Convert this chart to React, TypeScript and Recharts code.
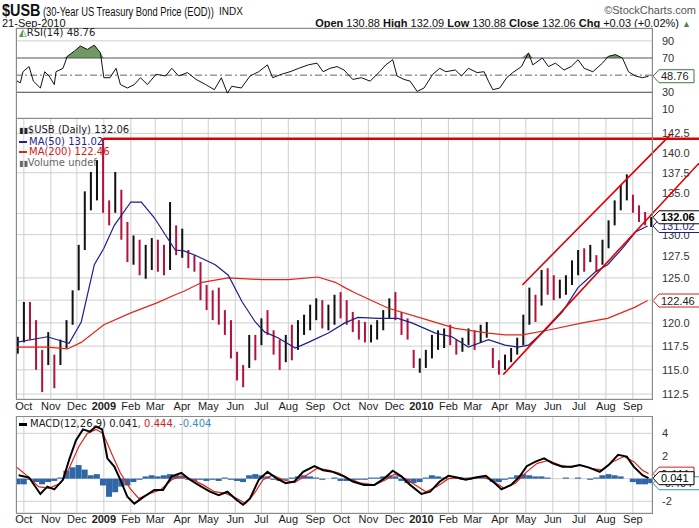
import React from "react";
import {
  ComposedChart,
  Line,
  Bar,
  Area,
  Cell,
  XAxis,
  YAxis,
  CartesianGrid,
  ReferenceLine,
} from "recharts";

// x axis: calendar days since 22-Sep-2008
const monthTicks = [9, 40, 70, 101, 132, 160, 191, 221, 252, 282, 313, 344, 374, 405, 435, 466, 497, 525, 556, 586, 617, 647, 678, 709];
const monthLabels = ["Oct", "Nov", "Dec", "2009", "Feb", "Mar", "Apr", "May", "Jun", "Jul", "Aug", "Sep", "Oct", "Nov", "Dec", "2010", "Feb", "Mar", "Apr", "May", "Jun", "Jul", "Aug", "Sep"];

// weekly price bars
const weekHigh = [
  118.5, 122.3, 122.3, 120.3, 117.1, 119.0, 116.6, 118.2, 120.3, 123.6,
  128.8, 135.2, 137.6, 139.1, 141.9, 134.1, 137.6, 135.4, 131.5, 129.9,
  129.4, 128.8, 129.6, 129.4, 128.8, 133.9, 131.1, 130.7, 128.2, 127.6,
  126.8, 124.2, 123.6, 123.9, 121.4, 120.3, 116.9, 115.5, 118.7, 118.7,
  120.5, 121.4, 119.2, 118.2, 118.7, 119.8, 120.3, 120.9, 122.0, 122.7,
  122.5, 122.0, 123.1, 123.4, 122.5, 121.2, 120.3, 120.1, 119.8, 120.3,
  121.4, 122.7, 123.4, 121.2, 120.5, 117.1, 116.2, 117.1, 118.7, 119.2,
  119.4, 119.8, 118.2, 118.4, 119.4, 119.2, 119.8, 120.1, 117.3, 116.0,
  116.6, 117.3, 118.4, 120.9, 123.9, 123.1, 125.9, 126.1, 125.3, 124.8,
  125.3, 127.0, 128.2, 128.4, 128.8, 127.6, 129.4, 131.7, 134.1, 136.0,
  137.3, 134.8, 133.5, 132.7, 132.1,
];
const weekLow = [
  116.7, 117.9, 118.2, 115.0, 112.7, 115.5, 113.1, 115.5, 117.3, 119.8,
  123.6, 128.2, 132.9, 134.1, 132.6, 131.1, 132.6, 129.4, 126.8, 126.5,
  125.3, 124.9, 125.9, 125.7, 125.3, 125.9, 127.6, 127.3, 126.1, 125.7,
  122.5, 121.4, 120.3, 119.8, 118.7, 116.2, 113.9, 113.2, 115.2, 116.0,
  117.6, 118.7, 116.6, 115.0, 115.8, 116.0, 117.1, 118.7, 119.2, 120.3,
  119.4, 119.2, 119.8, 120.5, 119.8, 119.0, 118.2, 117.9, 117.9, 118.2,
  119.2, 120.5, 120.3, 118.7, 118.2, 115.2, 114.7, 115.2, 116.2, 117.1,
  117.3, 117.6, 116.6, 116.9, 117.6, 117.1, 117.9, 118.4, 115.2, 114.5,
  115.0, 115.8, 116.6, 117.6, 119.8, 120.1, 121.9, 123.1, 122.5, 122.7,
  123.1, 124.2, 125.3, 125.7, 126.8, 125.7, 126.5, 128.4, 131.1, 132.9,
  134.1, 132.6, 131.5, 131.1, 130.9,
];
const weekClose = [
  117.5, 121.0, 119.5, 116.0, 114.0, 118.0, 113.8, 117.5, 119.8, 123.0,
  128.0, 134.0, 135.5, 139.0, 133.5, 132.0, 136.0, 130.0, 128.0, 129.0,
  126.0, 127.0, 128.5, 126.5, 125.8, 131.0, 128.5, 130.0, 127.0, 126.5,
  123.5, 122.3, 122.0, 120.5, 119.5, 117.0, 115.0, 114.2, 118.0, 117.0,
  120.0, 119.5, 117.5, 115.8, 118.0, 116.8, 119.8, 120.3, 121.5, 122.0,
  120.5, 121.5, 122.8, 121.5, 120.5, 119.5, 119.2, 118.5, 119.5, 119.8,
  121.0, 122.3, 120.8, 119.5, 119.0, 115.5, 115.8, 116.8, 118.3, 118.5,
  119.0, 118.0, 117.2, 117.8, 119.0, 117.6, 119.3, 119.8, 115.6, 115.0,
  116.0, 117.0, 118.0, 120.5, 122.0, 120.8, 125.0, 124.5, 123.5, 124.0,
  125.0, 126.5, 127.8, 126.5, 128.5, 126.2, 129.0, 131.5, 133.8, 134.5,
  135.5, 133.2, 131.8, 131.3, 132.06,
];

const ma50Days = [0, 36, 61, 75, 90, 101, 113, 132, 144, 159, 174, 183, 193, 206, 229, 244, 260, 275, 286, 301, 321, 336, 359, 378, 393, 416, 439, 455, 482, 501, 520, 543, 562, 577, 589, 608, 628, 646, 666, 680, 697, 712, 726];
const ma50Vals = [117.9, 118.5, 117.8, 120.1, 126.5, 128.4, 131.1, 133.9, 133.9, 132.0, 129.6, 128.2, 128.1, 127.6, 126.5, 125.3, 122.3, 120.1, 119.0, 118.4, 117.3, 117.9, 118.9, 120.0, 120.6, 120.5, 120.5, 120.0, 118.9, 118.5, 117.4, 118.2, 117.6, 117.4, 117.6, 119.2, 121.2, 123.9, 125.7, 126.5, 128.4, 130.3, 131.02];

const ma200Days = [0, 36, 59, 75, 101, 132, 162, 183, 193, 214, 244, 283, 313, 347, 367, 378, 390, 428, 467, 505, 543, 562, 582, 611, 651, 680, 711, 726];
const ma200Vals = [117.4, 117.4, 117.2, 117.9, 119.8, 121.1, 122.2, 123.1, 123.5, 124.5, 125.0, 124.8, 124.8, 125.1, 124.5, 123.9, 123.3, 121.6, 120.5, 119.4, 118.9, 118.7, 118.7, 119.2, 120.0, 120.5, 121.7, 122.46];

const rsiDays = [0, 5, 8, 15, 20, 28, 33, 38, 44, 46, 54, 59, 67, 74, 82, 90, 97, 101, 108, 115, 120, 128, 136, 143, 151, 161, 172, 179, 187, 197, 207, 218, 228, 236, 243, 248, 259, 269, 279, 289, 295, 305, 315, 325, 336, 346, 353, 361, 369, 377, 387, 397, 407, 418, 425, 433, 438, 446, 453, 461, 469, 479, 487, 494, 505, 512, 520, 530, 538, 543, 548, 556, 564, 571, 581, 589, 594, 605, 612, 620, 630, 638, 646, 653, 663, 674, 681, 689, 697, 704, 712, 720, 727];
const rsiVals = [44, 41, 54, 60, 43, 35, 54, 49, 39, 54, 58, 72, 78, 84, 80, 85, 76, 47, 47, 58, 39, 35, 39, 47, 39, 51, 49, 58, 49, 53, 45, 39, 33, 47, 29, 37, 35, 49, 54, 62, 47, 51, 54, 58, 62, 64, 54, 58, 60, 56, 45, 47, 43, 54, 62, 68, 49, 45, 43, 31, 35, 51, 58, 54, 56, 49, 58, 53, 54, 43, 33, 35, 47, 53, 60, 76, 62, 70, 60, 64, 56, 60, 68, 58, 54, 64, 72, 74, 70, 54, 49, 47, 48.76];

const macdDays = [3, 15, 28, 36, 44, 54, 61, 69, 77, 85, 92, 99, 105, 113, 120, 128, 136, 146, 159, 169, 179, 190, 200, 213, 223, 233, 243, 254, 261, 269, 279, 289, 300, 310, 320, 330, 343, 353, 364, 377, 387, 400, 412, 423, 433, 443, 453, 466, 476, 487, 497, 507, 517, 528, 540, 551, 558, 569, 579, 587, 597, 607, 617, 628, 638, 648, 658, 671, 681, 692, 702, 710, 720, 727];
const macdVals = [0.3, 0.1, -1.35, -0.7, -0.95, -0.1, 1.65, 3.4, 4.35, 4.15, 4.6, 4.35, 1.8, 1.06, -0.1, -1.6, -2.2, -1.65, -1.0, -1.0, 0.2, 0.5, -0.1, -0.7, -1.15, -1.45, -1.15, -1.9, -2.3, -1.75, -0.1, 0.6, 0, -0.4, -0.25, 0.6, 1.1, 0.75, 0.6, 0.2, -0.25, -0.55, -0.55, 0, 0.7, 0.2, -0.55, -1.35, -1.15, -0.25, 0.25, 0.1, -0.1, 0.1, 0.25, -0.45, -0.95, -0.55, 0.2, 1.1, 1.5, 1.8, 1.35, 1.06, 1.06, 1.2, 1.0, 0.6, 1.2, 2.1, 1.95, 1.06, 0.3, 0.041];

const signalDays = [0, 13, 26, 38, 51, 61, 72, 82, 92, 100, 110, 120, 131, 141, 154, 166, 179, 190, 202, 215, 228, 241, 254, 264, 274, 284, 295, 307, 320, 333, 346, 359, 371, 384, 397, 412, 425, 435, 448, 459, 471, 484, 497, 510, 523, 535, 548, 561, 574, 587, 599, 612, 625, 638, 648, 661, 674, 686, 699, 710, 720, 727];
const signalVals = [1.06, 0.25, -0.7, -0.85, -0.4, 0.9, 2.8, 4.0, 4.35, 4.0, 2.2, 0.5, -0.85, -1.75, -1.3, -1.0, -0.1, 0.25, -0.05, -0.55, -1.15, -1.3, -1.75, -2.2, -1.3, -0.1, 0.3, -0.1, -0.35, 0.25, 0.9, 0.75, 0.5, -0.05, -0.4, -0.55, -0.1, 0.4, 0, -0.55, -1.15, -0.7, 0, 0.1, -0.05, 0.2, -0.2, -0.85, -0.4, 0.6, 1.35, 1.6, 1.2, 1.0, 1.2, 0.9, 0.75, 1.5, 1.95, 1.5, 0.75, 0.444];

// weekly histogram
const macdHist = [
  -0.5, -0.5, -0.1, -0.3, -0.5, -0.3, -0.2, 0.1, 0.7, 1.0,
  1.2, 0.8, 0.3, 0.4, -0.6, -1.6, -1.2, -0.7, -0.6, -0.3,
  -0.1, 0.2, 0.3, 0.2, 0.3, 0.4, 0.3, 0.2, -0.1, -0.2,
  -0.1, -0.2, -0.1, -0.2, 0.1, -0.1, -0.2, -0.3, 0.3, 0.4,
  0.3, 0.2, -0.1, -0.2, -0.1, 0.1, 0.2, 0.3, 0.2, 0.1,
  -0.1, 0.0, 0.1, -0.2, -0.2, -0.2, -0.1, -0.1, 0.1, 0.1,
  0.2, 0.3, 0.2, -0.2, -0.4, -0.4, -0.3, 0.1, 0.3, 0.2,
  0.1, 0.0, 0.1, -0.1, 0.1, 0.1, 0.2, 0.1, -0.3, -0.3,
  -0.1, 0.1, 0.3, 0.4, 0.3, 0.2, 0.2, 0.1, 0.0, 0.0,
  0.1, 0.0, 0.1, 0.0, -0.1, 0.1, 0.3, 0.4, 0.3, 0.2,
  0.0, -0.3, -0.5, -0.5, -0.4,
];

const priceTicks = [112.5, 115, 117.5, 120, 122.5, 125, 127.5, 130, 132.5, 135, 137.5, 140, 142.5];

const priceData = weekHigh.map((h, i) => ({
  day: 7 * i + 2,
  range: [weekLow[i], h],
  up: i === 0 || weekClose[i] >= weekClose[i - 1],
}));
const ma50Data = ma50Days.map((d, i) => ({ day: d, v: ma50Vals[i] }));
const ma200Data = ma200Days.map((d, i) => ({ day: d, v: ma200Vals[i] }));
const rsiData = rsiDays.map((d, i) => ({ day: d, rsi: rsiVals[i], over: Math.max(rsiVals[i], 70) }));
const macdData = macdDays.map((d, i) => ({ day: d, v: macdVals[i] }));
const signalData = signalDays.map((d, i) => ({ day: d, v: signalVals[i] }));
const histData = macdHist.map((v, i) => ({ day: 7 * i + 2, hist: v }));

const FONT = '"Liberation Sans", Arial, sans-serif';
const LEG = '"DejaVu Sans", Verdana, sans-serif';
const GRID = "#cfcfcf";
const X_DOMAIN = [0, 731];
const W = 699;
const PRICE_DOMAIN = [112, 144.5];
const MACD_DOMAIN = [-3.03, 5.53];

function MonthTick({ x, y, payload }: any) {
  const idx = monthTicks.indexOf(payload.value);
  const label = monthLabels[idx] ?? "";
  const bold = label.startsWith("20");
  return (
    <text x={x} y={y} dy={9} textAnchor="middle" fontSize={11} fontFamily={FONT} fontWeight={bold ? 700 : 400} fill="#222">
      {label}
    </text>
  );
}

function Tag({ viewBox, text, color, textColor, bold }: any) {
  if (!viewBox) return null;
  const x = viewBox.x + viewBox.width + 1;
  const y = viewBox.y;
  const w = text.length * 6.2 + 4;
  return (
    <g>
      <path
        d={`M${x},${y} L${x + 6},${y - 6.5} L${x + 6 + w},${y - 6.5} L${x + 6 + w},${y + 6.5} L${x + 6},${y + 6.5} Z`}
        fill="#fff"
        stroke={color}
      />
      <text x={x + 8} y={y + 4} fontSize={11} fontFamily={FONT} fontWeight={bold ? 700 : 400} fill={textColor}>
        {text}
      </text>
    </g>
  );
}

// thin OHLC-style range bar
function RangeBar({ x, y, width, height, fill }: any) {
  if (height == null || isNaN(height)) return null;
  const cx = x + width / 2;
  return <rect x={cx - 1} y={y} width={2} height={Math.max(height, 1)} fill={fill} />;
}

const yTick = { fontSize: 11, fill: "#333", fontFamily: FONT };

function Frame({ top, height }: { top: number; height: number }) {
  return (
    <div style={{ position: "absolute", left: 16, top, width: 637, height, border: "1px solid #8a8a8a", boxSizing: "border-box", pointerEvents: "none" }} />
  );
}

const layer = (top: number): React.CSSProperties => ({ position: "absolute", left: 0, top });

export default function App() {
  return (
    <div style={{ position: "absolute", left: 0, top: 0, width: W, height: 528, background: "#fff", fontFamily: FONT, overflow: "hidden" }}>
      {/* header */}
      <div style={{ position: "absolute", left: 2, top: 1, whiteSpace: "nowrap", color: "#111" }}>
        <span style={{ fontSize: 17, fontWeight: 700, display: "inline-block", transform: "scaleX(0.85)", transformOrigin: "left" }}>$USB</span>
        <span style={{ fontSize: 12, display: "inline-block", transform: "scaleX(0.78)", transformOrigin: "left", marginLeft: -4 }}>(30-Year US Treasury Bond Price (EOD))</span>
      </div>
      <div style={{ position: "absolute", left: 219, top: 6, fontSize: 10, color: "#111" }}>INDX</div>
      <div style={{ position: "absolute", right: 3, top: 4, fontSize: 11, color: "#555" }}>©StockCharts.com</div>
      <div style={{ position: "absolute", left: 2, top: 17, fontSize: 11, color: "#111" }}>21-Sep-2010</div>
      <div style={{ position: "absolute", right: 8, top: 17, fontSize: 11, color: "#111", whiteSpace: "nowrap" }}>
        <b>Open</b> 130.88 <b>High</b> 132.09 <b>Low</b> 130.88 <b>Close</b> 132.06 <b>Chg</b> +0.03 (+0.02%) <span style={{ color: "#4a8a4a", fontSize: 9 }}>▲</span>
      </div>

      {/* RSI panel */}
      <div style={layer(0)}>
        <ComposedChart width={W} height={120} data={rsiData} margin={{ top: 28, right: 0, bottom: 2, left: 16 }}>
          <CartesianGrid stroke={GRID} />
          <XAxis dataKey="day" type="number" domain={X_DOMAIN} ticks={monthTicks} interval={0} height={0} tick={false} axisLine={false} tickLine={false} allowDataOverflow />
          <YAxis orientation="right" width={47} domain={[0, 105]} ticks={[10, 30, 70, 90]} tick={yTick} tickLine={false} axisLine={false} tickMargin={4} />
          <ReferenceLine y={70} stroke="#555" />
          <ReferenceLine y={30} stroke="#555" />
          <ReferenceLine y={50} stroke="#666" strokeDasharray="7 3 2 3" />
          <Area dataKey="over" baseValue={70} stroke="none" fill="#5f8f50" fillOpacity={0.9} isAnimationActive={false} />
          <Line dataKey="rsi" stroke="#111" strokeWidth={1} dot={false} isAnimationActive={false} />
          <ReferenceLine y={48.76} stroke="none" label={<Tag text="48.76" color="#3c7a3c" textColor="#222" />} />
        </ComposedChart>
      </div>
      <Frame top={28} height={91} />
      <div style={{ position: "absolute", left: 19, top: 27, fontSize: 10, fontFamily: LEG, color: "#222", whiteSpace: "nowrap" }}>
        <span style={{ color: "#5f8f50" }}>◭</span>RSI(14) 48.76
      </div>

      {/* Price panel: bars */}
      <div style={layer(118)}>
        <ComposedChart width={W} height={299} data={priceData} margin={{ top: 0, right: 0, bottom: 0, left: 16 }}>
          <CartesianGrid stroke={GRID} />
          <XAxis dataKey="day" type="number" domain={X_DOMAIN} ticks={monthTicks} interval={0} height={18} tick={<MonthTick />} tickSize={0} tickMargin={2} axisLine={false} allowDataOverflow />
          <YAxis orientation="right" width={47} scale="log" domain={PRICE_DOMAIN} ticks={priceTicks} tick={yTick} tickLine={false} axisLine={false} tickMargin={4} tickFormatter={(v: number) => (v === 132.5 || v === 122.5 ? "" : v.toFixed(1))} allowDataOverflow />
          <Bar dataKey="range" shape={<RangeBar />} isAnimationActive={false}>
            {priceData.map((d, i) => (
              <Cell key={i} fill={d.up ? "#111" : "#b3123c"} />
            ))}
          </Bar>
        </ComposedChart>
      </div>
      {/* Price panel: moving averages, trend lines, value tags */}
      <div style={layer(118)}>
        <ComposedChart width={W} height={299} data={ma50Data} margin={{ top: 0, right: 0, bottom: 0, left: 16 }}>
          <XAxis dataKey="day" type="number" domain={X_DOMAIN} height={18} tick={false} axisLine={false} tickLine={false} allowDataOverflow />
          <YAxis orientation="right" width={47} scale="log" domain={PRICE_DOMAIN} tick={false} axisLine={false} tickLine={false} allowDataOverflow />
          <Line data={ma200Data} dataKey="v" stroke="#e3231c" strokeWidth={1.2} dot={false} isAnimationActive={false} />
          <Line dataKey="v" stroke="#1e1e8c" strokeWidth={1.2} dot={false} isAnimationActive={false} />
          <ReferenceLine segment={[{ x: 101, y: 141.8 }, { x: 785, y: 141.8 }]} stroke="#e00000" strokeWidth={2.5} ifOverflow="visible" />
          <ReferenceLine segment={[{ x: 582, y: 124.2 }, { x: 752, y: 142.3 }]} stroke="#e00000" strokeWidth={1.6} ifOverflow="visible" />
          <ReferenceLine segment={[{ x: 560, y: 114.5 }, { x: 785, y: 138.7 }]} stroke="#e00000" strokeWidth={1.6} ifOverflow="visible" />
          <ReferenceLine y={122.46} stroke="none" label={<Tag text="122.46" color="#d02020" textColor="#222" />} />
          <ReferenceLine y={131.02} stroke="none" label={<Tag text="131.02" color="#1e1e8c" textColor="#1e1e8c" />} />
          <ReferenceLine y={132.06} stroke="none" label={<Tag text="132.06" color="#000" textColor="#000" bold />} />
        </ComposedChart>
      </div>
      <Frame top={118} height={282} />
      <div style={{ position: "absolute", left: 19, top: 125, fontSize: 10, fontFamily: LEG, lineHeight: "10.7px", whiteSpace: "nowrap" }}>
        <div style={{ color: "#222" }}>
          <span style={{ fontSize: 8 }}>▮▮</span>$USB (Daily) 132.06
        </div>
        <div style={{ color: "#1e1e8c" }}>
          <span style={{ display: "inline-block", width: 8, height: 2, background: "#1e1e8c", verticalAlign: "middle", marginRight: 2 }} />
          MA(50) 131.02
        </div>
        <div style={{ color: "#d02020" }}>
          <span style={{ display: "inline-block", width: 8, height: 2, background: "#e3231c", verticalAlign: "middle", marginRight: 2 }} />
          MA(200) 122.46
        </div>
        <div style={{ color: "#666" }}>
          <span style={{ fontSize: 8 }}>▮▮</span>Volume undef
        </div>
      </div>

      {/* MACD panel: histogram */}
      <div style={layer(416)}>
        <ComposedChart width={W} height={112} data={histData} margin={{ top: 0, right: 0, bottom: 0, left: 16 }}>
          <CartesianGrid stroke={GRID} />
          <XAxis dataKey="day" type="number" domain={X_DOMAIN} ticks={monthTicks} interval={0} height={15} tick={<MonthTick />} tickSize={0} tickMargin={1} axisLine={false} allowDataOverflow />
          <YAxis orientation="right" width={47} domain={MACD_DOMAIN} ticks={[-2, 0, 2, 4]} tick={yTick} tickLine={false} axisLine={false} tickMargin={4} tickFormatter={(v: number) => (v === 0 ? "" : String(v))} allowDataOverflow />
          <Bar dataKey="hist" fill="#2f67a6" barSize={6} isAnimationActive={false} />
        </ComposedChart>
      </div>
      {/* MACD panel: lines and tags */}
      <div style={layer(416)}>
        <ComposedChart width={W} height={112} data={macdData} margin={{ top: 0, right: 0, bottom: 0, left: 16 }}>
          <XAxis dataKey="day" type="number" domain={X_DOMAIN} height={15} tick={false} axisLine={false} tickLine={false} allowDataOverflow />
          <YAxis orientation="right" width={47} domain={MACD_DOMAIN} tick={false} axisLine={false} tickLine={false} allowDataOverflow />
          <Line data={signalData} dataKey="v" stroke="#e3231c" strokeWidth={1.2} dot={false} isAnimationActive={false} />
          <Line dataKey="v" stroke="#000" strokeWidth={2} dot={false} isAnimationActive={false} />
          <ReferenceLine y={0.444} stroke="none" label={<Tag text="0.444" color="#d02020" textColor="#222" />} />
          <ReferenceLine y={-0.404} stroke="none" label={<Tag text="-0.404" color="#3a8fc0" textColor="#222" />} />
          <ReferenceLine y={0.041} stroke="none" label={<Tag text="0.041" color="#000" textColor="#000" />} />
        </ComposedChart>
      </div>
      <Frame top={416} height={98} />
      <div style={{ position: "absolute", left: 19, top: 418, fontSize: 10, fontFamily: LEG, whiteSpace: "nowrap", color: "#222" }}>
        <span style={{ display: "inline-block", width: 8, height: 3, background: "#000", verticalAlign: "middle", marginRight: 3 }} />
        MACD(12,26,9) 0.041<span style={{ color: "#d02020" }}>, 0.444</span>
        <span style={{ color: "#3a8fc0" }}>, -0.404</span>
      </div>
    </div>
  );
}
